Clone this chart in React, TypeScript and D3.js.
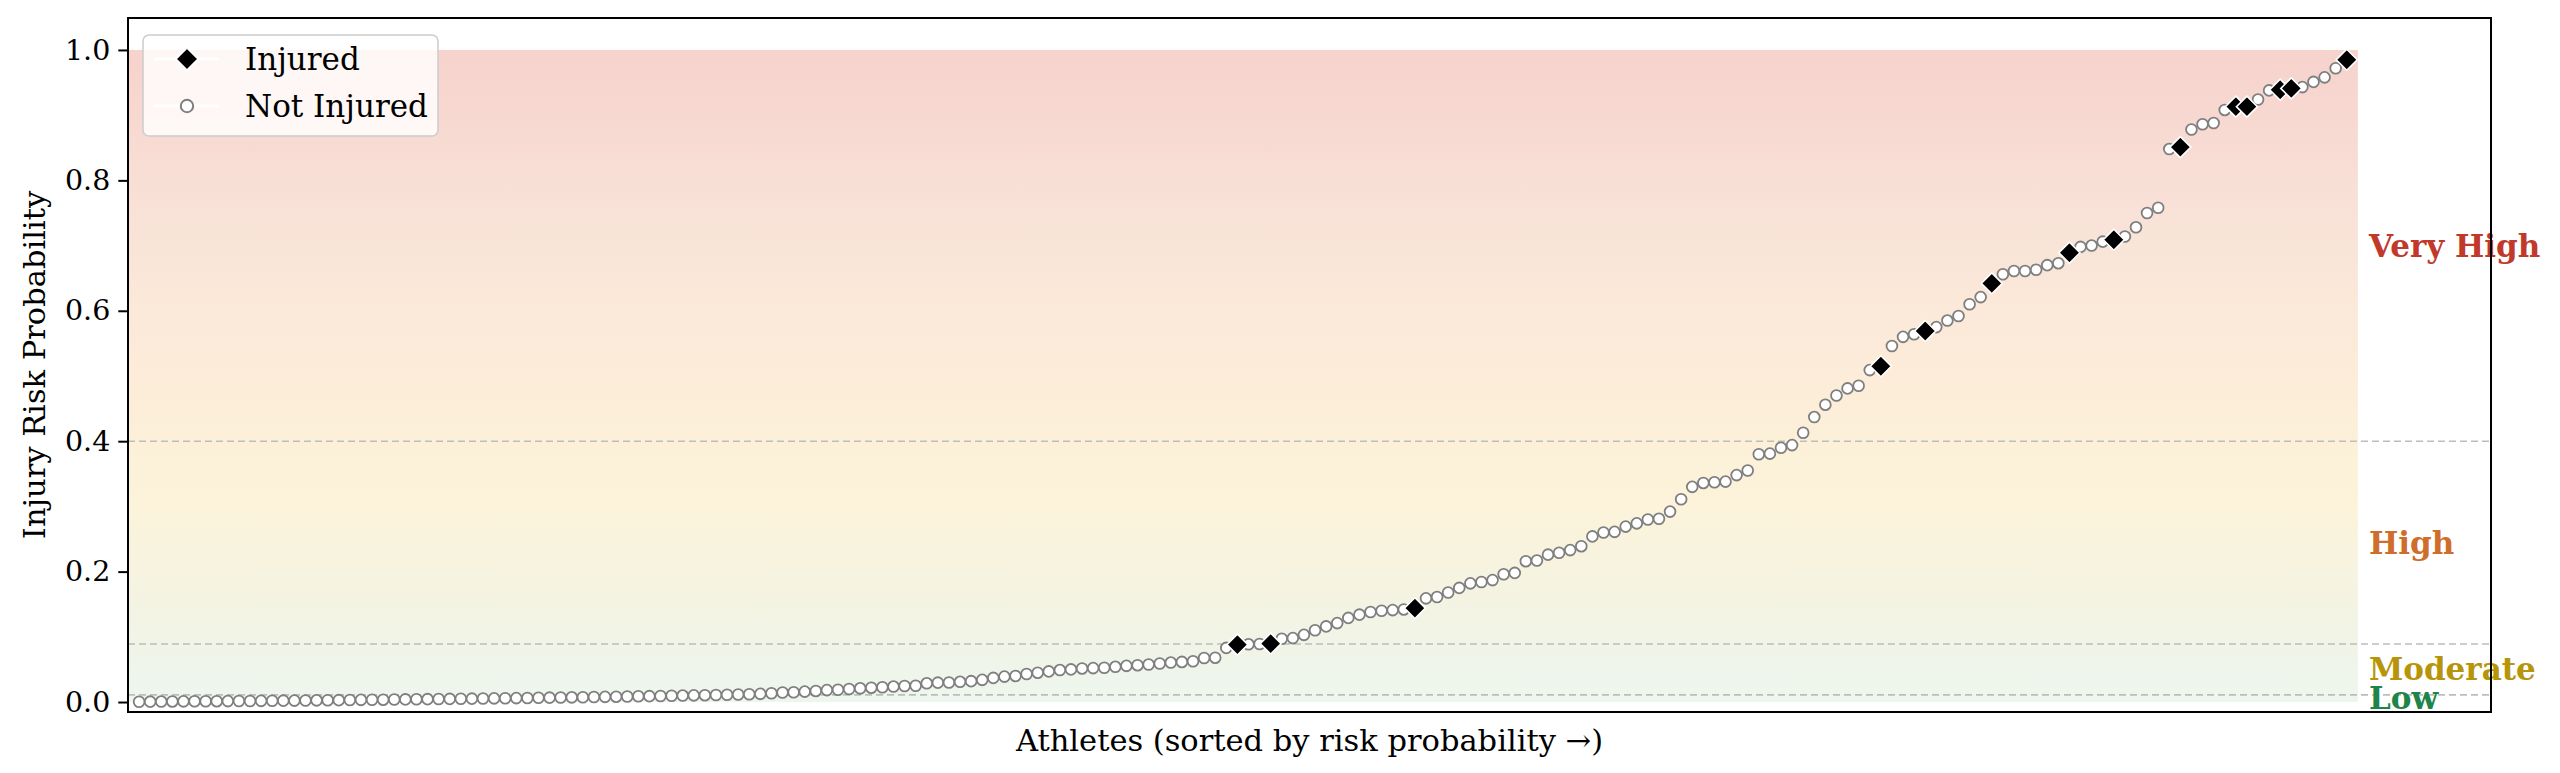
import React, { useEffect, useRef } from "react";
import * as d3 from "d3";

// sorted risk probability per athlete (index = rank)
const riskValues: number[] = [
  0.0004, 0.0006, 0.0007, 0.0009, 0.001, 0.0011, 0.0012, 0.0013, 0.0014, 0.0015,
  0.0016, 0.0018, 0.0019, 0.0021, 0.0022, 0.0024, 0.0026, 0.0027, 0.0029, 0.0031,
  0.0033, 0.0035, 0.0036, 0.0038, 0.004, 0.0042, 0.0044, 0.0046, 0.0048, 0.005,
  0.0052, 0.0054, 0.0056, 0.0058, 0.006, 0.0062, 0.0065, 0.0067, 0.0069, 0.0072,
  0.0074, 0.0077, 0.0079, 0.0082, 0.0085, 0.0088, 0.009, 0.0093, 0.0096, 0.0099,
  0.0102, 0.0105, 0.0108, 0.0112, 0.0116, 0.012, 0.0125, 0.0135, 0.0146, 0.015,
  0.016, 0.017, 0.0183, 0.0188, 0.02, 0.021, 0.022, 0.0227, 0.0237, 0.0245,
  0.025, 0.0287, 0.0297, 0.03, 0.031, 0.032, 0.034, 0.037, 0.039, 0.04,
  0.043, 0.045, 0.047, 0.049, 0.05, 0.0515, 0.052, 0.0525, 0.054, 0.0555,
  0.0565, 0.0575, 0.059, 0.0605, 0.0615, 0.0625, 0.0675, 0.068, 0.083, 0.088,
  0.0885, 0.089, 0.0895, 0.097, 0.098, 0.103, 0.11, 0.116, 0.121, 0.129,
  0.134, 0.138, 0.14, 0.141, 0.142, 0.144, 0.159, 0.161, 0.168, 0.175,
  0.182, 0.184, 0.187, 0.196, 0.198, 0.216, 0.217, 0.226, 0.229, 0.233,
  0.239, 0.254, 0.26, 0.261, 0.269, 0.274, 0.28, 0.281, 0.292, 0.311,
  0.33, 0.336, 0.337, 0.338, 0.348, 0.355, 0.38, 0.381, 0.39, 0.394,
  0.413, 0.437, 0.456, 0.47, 0.481, 0.485, 0.509, 0.515, 0.546, 0.56,
  0.564, 0.569, 0.575, 0.585, 0.592, 0.61, 0.621, 0.642, 0.656, 0.661,
  0.661, 0.663, 0.67, 0.673, 0.689, 0.698, 0.7, 0.706, 0.709, 0.714,
  0.728, 0.75, 0.758, 0.848, 0.851, 0.878, 0.886, 0.888, 0.908, 0.913,
  0.913, 0.924, 0.938, 0.939, 0.941, 0.943, 0.951, 0.958, 0.972, 0.985,
];

// ranks of athletes that got injured
const injuredIdx: number[] = [99, 102, 115, 157, 161, 167, 174, 178, 184, 189, 190, 193, 194, 199];

const categories = ["Low", "Moderate", "High", "Very High"];
const categoryColors = ["#1e8449", "#b7950b", "#cf6d2c", "#c0392b"];
const thresholds = [0, 0.011, 0.089, 0.4, 1.0];

const yTicks = [0, 0.2, 0.4, 0.6, 0.8, 1.0];

const bgStopValues = [0, 0.1, 0.2, 0.3, 0.4, 0.5, 0.6, 0.7, 0.8, 0.9, 1.0];
const bgStopColors = [
  "#edf6ee", "#f1f4e6", "#f6f3e0", "#fcf3da", "#fcf0d9", "#fcecd9",
  "#fbe9d9", "#f9e4d8", "#f8dfd6", "#f7d8d1", "#f6d3cc",
];

const W = 2560;
const H = 773;
const FONT = "'DejaVu Serif', serif";

export default function App() {
  const svgRef = useRef<SVGSVGElement>(null);

  useEffect(() => {
    document.body.style.margin = "0";
    if (!svgRef.current) return;
    const svg = d3.select(svgRef.current);
    svg.selectAll("*").remove();

    const margin = { top: 18, right: W - 2491, bottom: H - 712, left: 128 };
    const n = riskValues.length;

    const x = d3.scaleLinear().domain([-1, n + 12]).range([margin.left, W - margin.right]);
    const y = d3.scaleLinear().domain([-0.0153, 1.049]).range([H - margin.bottom, margin.top]);

    // background gradient
    const defs = svg.append("defs");
    const grad = defs
      .append("linearGradient")
      .attr("id", "riskBg")
      .attr("gradientUnits", "userSpaceOnUse")
      .attr("x1", 0)
      .attr("x2", 0)
      .attr("y1", y(0))
      .attr("y2", y(1));
    grad
      .selectAll("stop")
      .data(bgStopValues)
      .join("stop")
      .attr("offset", (d) => d)
      .attr("stop-color", (_, i) => bgStopColors[i]);

    svg
      .append("rect")
      .attr("x", x(-1))
      .attr("y", y(1))
      .attr("width", x(n) - x(-1))
      .attr("height", y(0) - y(1))
      .attr("fill", "url(#riskBg)");

    // threshold lines
    svg
      .selectAll(".thr")
      .data(thresholds.slice(1, -1))
      .join("line")
      .attr("class", "thr")
      .attr("x1", x(-1))
      .attr("x2", x(n + 12))
      .attr("y1", (d) => y(d))
      .attr("y2", (d) => y(d))
      .attr("stroke", "#bdbdbd")
      .attr("stroke-width", 1.6)
      .attr("stroke-dasharray", "7,4");

    // category labels
    svg
      .selectAll(".cat")
      .data(categories)
      .join("text")
      .attr("class", "cat")
      .attr("x", x(n + 1))
      .attr("y", (_, i) => y((thresholds[i] + thresholds[i + 1]) / 2))
      .attr("dominant-baseline", "central")
      .attr("font-family", FONT)
      .attr("font-weight", "bold")
      .attr("font-size", 31)
      .attr("fill", (_, i) => categoryColors[i])
      .text((d) => d);

    const injuredSet = new Set(injuredIdx);
    const points = riskValues.map((v, i) => ({ i, v, injured: injuredSet.has(i) }));

    // not injured
    svg
      .selectAll(".ok")
      .data(points.filter((p) => !p.injured))
      .join("circle")
      .attr("class", "ok")
      .attr("cx", (d) => x(d.i))
      .attr("cy", (d) => y(d.v))
      .attr("r", 5.4)
      .attr("fill", "#ffffff")
      .attr("stroke", "#7f7f7f")
      .attr("stroke-width", 1.8);

    // injured
    const diamond = (cx: number, cy: number, r: number) =>
      `M${cx},${cy - r}L${cx + r},${cy}L${cx},${cy + r}L${cx - r},${cy}Z`;
    svg
      .selectAll(".inj")
      .data(points.filter((p) => p.injured))
      .join("path")
      .attr("class", "inj")
      .attr("d", (d) => diamond(x(d.i), y(d.v), 10.5))
      .attr("fill", "#000000")
      .attr("stroke", "#ffffff")
      .attr("stroke-width", 1.6);

    // frame
    svg
      .append("rect")
      .attr("x", margin.left)
      .attr("y", margin.top)
      .attr("width", W - margin.right - margin.left)
      .attr("height", H - margin.bottom - margin.top)
      .attr("fill", "none")
      .attr("stroke", "#000")
      .attr("stroke-width", 2);

    // y axis
    const yAxis = svg
      .append("g")
      .attr("transform", `translate(${margin.left},0)`)
      .call(
        d3
          .axisLeft(y)
          .tickValues(yTicks)
          .tickFormat(d3.format(".1f"))
          .tickSize(9.7)
          .tickPadding(8)
      );
    yAxis.select(".domain").remove();
    yAxis.selectAll("line").attr("stroke", "#000").attr("stroke-width", 2);
    yAxis
      .selectAll("text")
      .attr("font-family", FONT)
      .attr("font-size", 28.5)
      .attr("fill", "#000");

    // axis titles
    svg
      .append("text")
      .attr("x", (margin.left + W - margin.right) / 2)
      .attr("y", 740)
      .attr("text-anchor", "middle")
      .attr("dominant-baseline", "central")
      .attr("font-family", FONT)
      .attr("font-size", 30.5)
      .text("Athletes (sorted by risk probability \u2192)");

    svg
      .append("text")
      .attr("transform", `translate(34,${(margin.top + H - margin.bottom) / 2}) rotate(-90)`)
      .attr("text-anchor", "middle")
      .attr("dominant-baseline", "central")
      .attr("font-family", FONT)
      .attr("font-size", 30.5)
      .text("Injury Risk Probability");

    // legend
    const lg = svg.append("g");
    lg.append("rect")
      .attr("x", 143)
      .attr("y", 35)
      .attr("width", 295)
      .attr("height", 101)
      .attr("rx", 6)
      .attr("fill", "#ffffff")
      .attr("fill-opacity", 0.8)
      .attr("stroke", "#cccccc")
      .attr("stroke-width", 1.5);
    const rows = [
      { label: "Injured", y: 59, injured: true },
      { label: "Not Injured", y: 106, injured: false },
    ];
    rows.forEach((r) => {
      lg.append("line")
        .attr("x1", 154)
        .attr("x2", 219)
        .attr("y1", r.y)
        .attr("y2", r.y)
        .attr("stroke", "#ffffff")
        .attr("stroke-width", 3);
      if (r.injured) {
        lg.append("path")
          .attr("d", diamond(187, r.y, 11))
          .attr("fill", "#000")
          .attr("stroke", "#fff")
          .attr("stroke-width", 1.6);
      } else {
        lg.append("circle")
          .attr("cx", 187)
          .attr("cy", r.y)
          .attr("r", 6.2)
          .attr("fill", "#fff")
          .attr("stroke", "#7f7f7f")
          .attr("stroke-width", 2);
      }
      lg.append("text")
        .attr("x", 245)
        .attr("y", r.y)
        .attr("dominant-baseline", "central")
        .attr("font-family", FONT)
        .attr("font-size", 31)
        .text(r.label);
    });
  }, []);

  return <svg ref={svgRef} width={W} height={H} style={{ display: "block", background: "#fff" }} />;
}
